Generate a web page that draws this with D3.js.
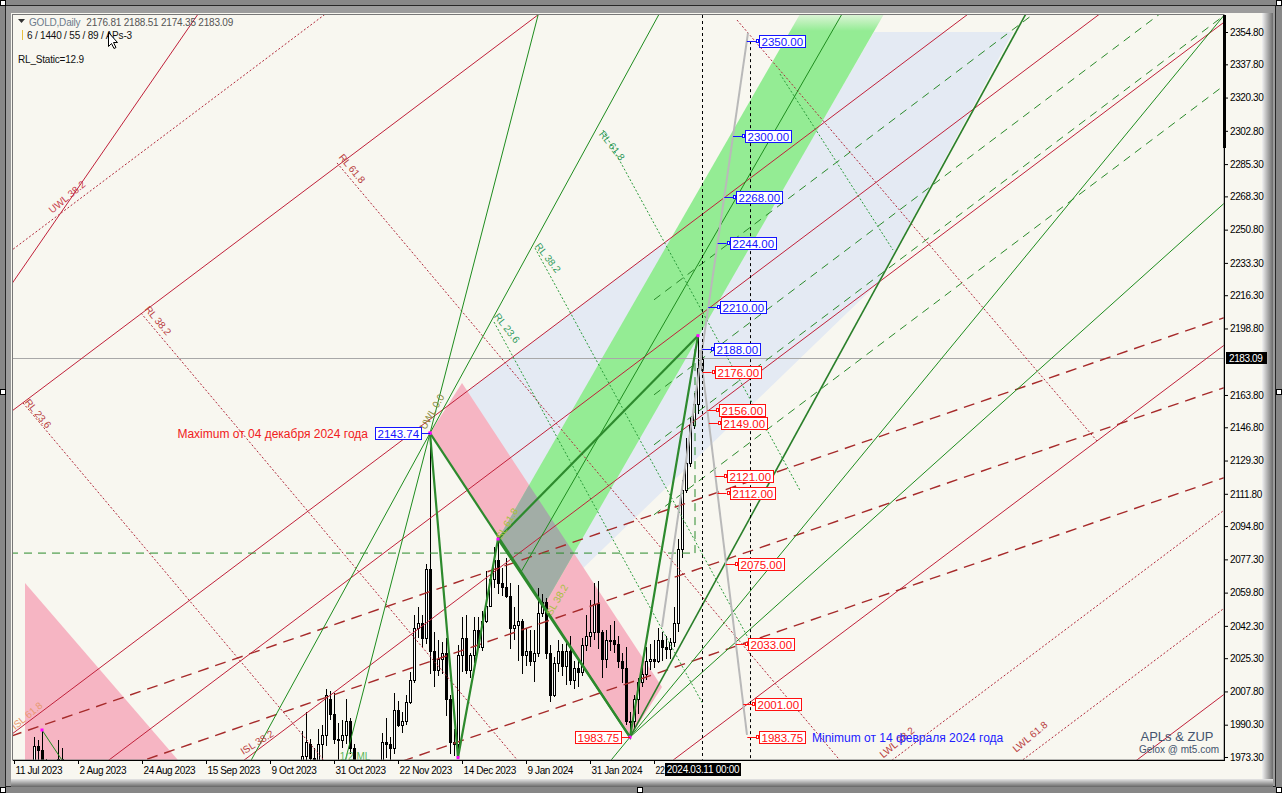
<!DOCTYPE html>
<html>
<head>
<meta charset="utf-8">
<script src="https://cdn.jsdelivr.net/npm/d3@7"></script>
<style>
body { margin: 0; background: #878787; }
svg { display: block; }
text { font-family: "Liberation Sans", Arial, sans-serif; }
</style>
</head>
<body>
<svg id="viz" width="1282" height="793"></svg>
<script>
// GOLD daily, MT5 style chart with APLs & ZUP drawing objects

var svg = d3.select("#viz");
var plot = { left: 13, top: 15, right: 1224, bottom: 760 };

// ---------- data ----------
var holidays = ["2023-12-25", "2024-01-01"];

// date, open, high, low, close (bars that reach the visible price window)
var candles = [
  ["2023-07-11",1925,1938,1922,1932],["2023-07-12",1932,1959,1930,1957],["2023-07-13",1957,1964,1953,1961],
  ["2023-07-14",1961,1963,1950,1955],["2023-07-17",1955,1962,1950,1955],["2023-07-18",1955,1984,1952,1979],
  ["2023-07-19",1979,1982,1967,1977],["2023-07-20",1977,1987.5,1966,1970],["2023-07-21",1970,1972,1957,1962],
  ["2023-07-24",1962,1966,1952,1955],["2023-07-25",1955,1967,1953,1965],["2023-07-26",1965,1982,1956,1972],
  ["2023-07-27",1972,1978,1942,1946],["2023-07-28",1946,1961,1945,1959],["2023-07-31",1959,1970,1955,1965],
  ["2023-08-01",1965,1967,1940,1944],
  ["2023-10-19",1947,1987,1942,1974],["2023-10-20",1974,1997,1965,1981],["2023-10-23",1980,1983,1961,1973],
  ["2023-10-24",1973,1978,1953,1970],["2023-10-25",1970,1988,1962,1980],["2023-10-26",1980,1990,1971,1985],
  ["2023-10-27",1985,2009,1979,2006],["2023-10-30",2004,2008,1993,1996],["2023-10-31",1996,2007,1980,1983],
  ["2023-11-01",1983,1991,1970,1982],["2023-11-02",1982,1993,1978,1985],["2023-11-03",1985,2004,1980,1992],
  ["2023-11-06",1992,1994,1975,1978],["2023-11-07",1978,1980,1957,1970],["2023-11-08",1970,1971,1947,1950],
  ["2023-11-09",1950,1965,1945,1958],["2023-11-10",1958,1959,1932,1940],["2023-11-13",1940,1947,1931,1946],
  ["2023-11-14",1946,1971,1935,1963],["2023-11-15",1963,1970,1953,1959],["2023-11-16",1959,1986,1956,1981],
  ["2023-11-17",1981,1994,1973,1980],["2023-11-20",1980,1984,1965,1978],["2023-11-21",1978,2007,1975,1998],
  ["2023-11-22",1998,2003,1989,1990],["2023-11-23",1990,1997,1986,1992],["2023-11-24",1992,2006,1990,2002],
  ["2023-11-27",2002,2018,2001,2014],["2023-11-28",2014,2048,2012,2041],["2023-11-29",2041,2052,2036,2044],
  ["2023-11-30",2044,2048,2031,2036],["2023-12-01",2036,2075,2033,2072],["2023-12-04",2072,2143.74,2017,2029],
  ["2023-12-05",2029,2039,2010,2019],["2023-12-06",2019,2035,2016,2025],["2023-12-07",2025,2034,2017,2028],
  ["2023-12-08",2028,2036,1995,2004],["2023-12-11",2004,2006,1975,1981],["2023-12-12",1981,1988,1974,1980],
  ["2023-12-13",1980,2032,1973,2027],["2023-12-14",2027,2047,2018,2036],["2023-12-15",2036,2048,2017,2019],
  ["2023-12-18",2019,2028,2015,2027],["2023-12-19",2027,2047,2023,2040],["2023-12-20",2040,2047,2030,2031],
  ["2023-12-21",2031,2050,2029,2045],["2023-12-22",2045,2071,2044,2053],["2023-12-26",2053,2069,2052,2067],
  ["2023-12-27",2067,2084,2062,2077],["2023-12-28",2077,2088,2059,2065],["2023-12-29",2065,2073,2058,2063],
  ["2024-01-02",2063,2078,2057,2058],["2024-01-03",2058,2065,2030,2041],["2024-01-04",2041,2052,2035,2043],
  ["2024-01-05",2043,2064,2024,2045],["2024-01-08",2045,2046,2017,2027],["2024-01-09",2027,2041,2021,2029],
  ["2024-01-10",2029,2040,2021,2024],["2024-01-11",2024,2040,2013,2028],["2024-01-12",2028,2062,2026,2049],
  ["2024-01-15",2049,2059,2047,2055],["2024-01-16",2055,2057,2025,2028],["2024-01-17",2028,2032,2002,2006],
  ["2024-01-18",2006,2026,2005,2023],["2024-01-19",2023,2035,2018,2029],["2024-01-22",2029,2033,2016,2021],
  ["2024-01-23",2021,2034,2011,2029],["2024-01-24",2029,2037,2011,2014],["2024-01-25",2014,2024,2009,2020],
  ["2024-01-26",2020,2025,2010,2018],["2024-01-29",2018,2036,2016,2032],["2024-01-30",2032,2048,2029,2037],
  ["2024-01-31",2037,2056,2031,2039],["2024-02-01",2039,2065,2035,2054],["2024-02-02",2054,2066,2030,2039],
  ["2024-02-05",2039,2040,2015,2025],["2024-02-06",2025,2040,2020,2035],["2024-02-07",2035,2043,2029,2035],
  ["2024-02-08",2035,2045,2028,2033],["2024-02-09",2033,2037,2020,2024],["2024-02-12",2024,2028,2012,2020],
  ["2024-02-13",2020,2031,1990,1992],["2024-02-14",1992,1997,1983.75,1992],["2024-02-15",1992,2006,1988,2004],
  ["2024-02-16",2004,2015,1996,2013],["2024-02-19",2013,2023,2010,2017],["2024-02-20",2017,2031,2014,2024],
  ["2024-02-21",2024,2033,2019,2025],["2024-02-22",2025,2035,2020,2024],["2024-02-23",2024,2041,2023,2035],
  ["2024-02-26",2035,2039,2024,2031],["2024-02-27",2031,2037,2025,2030],["2024-02-28",2030,2036,2025,2034],
  ["2024-02-29",2034,2052,2031,2044],["2024-03-01",2044,2088,2039,2083],["2024-03-04",2083,2119,2078,2114],
  ["2024-03-05",2114,2141,2112,2128],["2024-03-06",2128,2152,2126,2148],["2024-03-07",2148,2165,2146,2159],
  ["2024-03-08",2159,2195,2154,2178],["2024-03-11",2176.81,2188.51,2174.35,2183.09]
];

// zigzag turning points; the first ones are drawn thin, the rest bold
var zigzagOld = [["2023-07-20",1987.5],["2023-10-06",1810],["2023-12-04",2143.74]];
var zigzag = [["2023-12-04",2143.74],["2023-12-13",1973.0],["2023-12-28",2088.0],["2024-02-14",1983.75],["2024-03-08",2195.0]];

var xTickDates = ["2023-07-11","2023-08-02","2023-08-24","2023-09-15","2023-10-09","2023-10-31",
  "2023-11-22","2023-12-14","2024-01-09","2024-01-31","2024-02-22"];
var xTickLabels = ["11 Jul 2023","2 Aug 2023","24 Aug 2023","15 Sep 2023","9 Oct 2023","31 Oct 2023",
  "22 Nov 2023","14 Dec 2023","9 Jan 2024","31 Jan 2024","22 Feb 2024"];
var yTickValues = [2354.80,2337.80,2320.30,2302.80,2285.30,2268.30,2250.80,2233.30,2216.30,2198.80,
  2163.80,2146.80,2129.30,2111.80,2094.80,2077.30,2059.80,2042.30,2025.30,2007.80,1990.30,1973.30];
var lastClose = 2183.09;
var crossDate = "2024-03-11";
var projDate = "2024-03-27";

// pitchfork families: price of each line on the anchor bar, slope in $ per bar
var forkAnchor = "2024-03-11";
var redForkSlope = 1.585;
var redForkSolid = [2428.8, 2258.8, 2206.7, 2153.1, 1983.1, 1799.4];
var redForkDotted = [2513.5, 1896.3, 1844.7];
var redDashSlope = 0.726;
var redDashLevels = [2109.7, 2072.9, 2025.5];
var greenDashSlope = 1.585;
var greenDashLevels = [2232.9, 2182.9, 2156.6, 2119.8];
var greenDashFrom = 160;

// other lines: [bar1, price1, bar2, price2, style]  (bar = trading days since 11 Jul 2023)
var segments = [
  [-1, 2220.9, 48, 2370.3, "redSolid"],
  [2.25, 2159.6, 82.1, 1960, "redDot"],
  [31.75, 2206.9, 130.5, 1960, "redDot"],
  [80.75, 2285.9, 211.1, 1960, "redDot"],
  [180.75, 2361.1, 270.75, 2139.6, "redDot"],
  [104, 2143.74, 132, 2371.7, "greenSolid"],
  [55, 1955.1, 164, 2374.7, "greenSolid"],
  [154, 1983.75, 310, 2278.8, "greenSolid"],
  [146, 1963.3, 305, 2370.0, "greenSolid"],
  [154, 1983.75, 256, 2376.0, "greenMid"],
  [126.7, 2070.5, 211.3, 2380, "greenSolid"],
  [147.25, 2303.2, 196.5, 2113.6, "greenDot"],
  [130.25, 2241.1, 185, 2030.3, "greenDot"],
  [120, 2202.2, 172, 2002.0, "greenDot"],
  [191.5, 2332.7, 219.75, 2240.1, "greenDot"],
  [-1, 2080.6, 170.25, 2080.6, "greenDash"],
  [170.25, 2080.6, 170.25, 2188.0, "greenDash"],
  [104, 2143.74, 154, 1983.75, "greenThick"],
  [121, 2088.0, 171, 2195.0, "greenThick"]
];

var greenChannel = [[121,2088],[200.8,2380],[221.8,2380],[132.43,2052.9]];
var pinkBand = [[104,2143.74],[112,2170.1],[162,2010.1],[154,1983.75]];
var pinkCorner = [[2.75,2064.9],[70.4,1900],[2.75,1900]];
var lavender = [[108.75,2158.5],[201.5,2305.9],[215,2354.8],[249.75,2354.8],[216,2222.7],[132.5,2052.8],[122.75,2083.3]];

var grayUp = [162, 2041.7, 183.5, 2354.3];
var grayDown = [171.5, 2187.5, 183.25, 1984.9];
var bluePrices = [2350, 2300, 2268, 2244, 2210, 2188];
var redPrices = [2176, 2156, 2149, 2121, 2112, 2075, 2033, 2001, 1983.75];

var lineLabels = [
  ["UWL 38.2", 13.25, 2268, -40, "#c8404c"],
  ["RL 61.8", 84.5, 2283, 50, "#b84040"],
  ["RL 38.2", 36, 2203, 50, "#b84040"],
  ["RL 23.6", 6, 2154, 50, "#b84040"],
  ["RL 61.8", 149.5, 2295, 52, "#2e9a5a"],
  ["RL 38.2", 133.5, 2236, 52, "#2e9a5a"],
  ["RL 23.6", 123.25, 2199, 52, "#2e9a5a"],
  ["UWL 0.0", 104.5, 2155, -60, "#8a8a3a"],
  ["LWL 38.2", 220.75, 1981, -40, "#b84040"],
  ["LWL 61.8", 254, 1984, -40, "#b84040"],
  ["ISL 61.8", 3.25, 1995, -40, "#e89a70"],
  ["ISL 38.2", 60.75, 1981, -32, "#b84040"],
  ["1/2 ML", 85.25, 1973.5, 0, "#5cb85c"],
  ["SL 61.8", 123.25, 2096, -60, "#a8c040"],
  ["SL 38.2", 135.75, 2056, -60, "#a8c040"]
];

// ---------- scales ----------
var fmt = d3.utcFormat("%Y-%m-%d");
var days = d3.utcDay.range(new Date(Date.UTC(2023, 6, 11)), new Date(Date.UTC(2024, 11, 31)))
  .filter(function(d) { var w = d.getUTCDay(); return w > 0 && w < 6 && holidays.indexOf(fmt(d)) < 0; })
  .map(fmt);
function bar(s) { return days.indexOf(s); }

var x = d3.scaleLinear().domain([-0.25, 302.5]).range([plot.left, plot.right]);
var y = d3.scaleLinear().domain([1971.72, 2363.75]).range([plot.bottom, plot.top]);
var line = d3.line().x(function(d) { return x(d[0]); }).y(function(d) { return y(d[1]); });

var styles = {
  redSolid:  { c: "#c0213a", w: 1 },
  redDot:    { c: "#b0283a", w: 1, d: "2,2" },
  redDash:   { c: "#a62a2a", w: 1.4, d: "11,7" },
  greenSolid:{ c: "#1e8c1e", w: 1 },
  greenMid:  { c: "#2a7f2a", w: 1.6 },
  greenDash: { c: "#2a8a2a", w: 1, d: "8,6" },
  greenDot:  { c: "#2a9a3a", w: 1, d: "2,2" },
  greenThick:{ c: "#2d8a2d", w: 2.2 }
};

// ---------- frame ----------
var defs = svg.append("defs");
var gr = defs.append("linearGradient").attr("id", "bevR");
gr.append("stop").attr("offset", 0).attr("stop-color", "#f2f2f2");
gr.append("stop").attr("offset", 1).attr("stop-color", "#6c6c6c");
var gb = defs.append("linearGradient").attr("id", "bevB").attr("x2", 0).attr("y2", 1);
gb.append("stop").attr("offset", 0).attr("stop-color", "#e6e6e6");
gb.append("stop").attr("offset", 1).attr("stop-color", "#666");
var gt = defs.append("linearGradient").attr("id", "fadeTop").attr("x2", 0).attr("y2", 1);
gt.append("stop").attr("offset", 0).attr("stop-color", "#f8f7f0").attr("stop-opacity", 0.7);
gt.append("stop").attr("offset", 1).attr("stop-color", "#f8f7f0").attr("stop-opacity", 0);
defs.append("clipPath").attr("id", "plotClip").append("rect")
  .attr("x", plot.left).attr("y", plot.top)
  .attr("width", plot.right - plot.left).attr("height", plot.bottom - plot.top);
defs.append("clipPath").attr("id", "pinkClip").append("path").attr("d", line(pinkBand) + "Z");

svg.append("rect").attr("width", 1282).attr("height", 793).attr("fill", "#878787");
svg.append("rect").attr("x", 5.5).attr("y", 5.5).attr("width", 1270).attr("height", 781)
  .attr("fill", "#9c9c9c").attr("stroke", "#262626");
svg.append("rect").attr("x", 11).attr("y", 13).attr("width", 1251).attr("height", 766).attr("fill", "#f8f7f0");
svg.append("rect").attr("x", 1262).attr("y", 13).attr("width", 11).attr("height", 774).attr("fill", "url(#bevR)");
svg.append("rect").attr("x", 11).attr("y", 779).attr("width", 1262).attr("height", 8).attr("fill", "url(#bevB)");

// ---------- plot ----------
var g = svg.append("g").attr("clip-path", "url(#plotClip)");

g.append("path").attr("d", line(lavender) + "Z").attr("fill", "#e4eaf3");
g.append("path").attr("d", line(pinkCorner) + "Z").attr("fill", "#f6b5c3");
g.append("path").attr("d", line(pinkBand) + "Z").attr("fill", "#f6b5c3");
g.append("path").attr("d", line(greenChannel) + "Z").attr("fill", "#94ec94");
g.append("path").attr("d", line(greenChannel) + "Z").attr("fill", "#a2ada6").attr("clip-path", "url(#pinkClip)");
g.append("rect").attr("x", plot.left).attr("y", plot.top).attr("width", plot.right - plot.left).attr("height", 16)
  .attr("fill", "url(#fadeTop)");

// candles
var cg = g.append("g");
candles.forEach(function(r) {
  var t = bar(r[0]), px = Math.round(x(t));
  var o = r[1], h = r[2], l = r[3], c = r[4];
  cg.append("line").attr("x1", px + 0.5).attr("x2", px + 0.5)
    .attr("y1", Math.round(y(h))).attr("y2", Math.round(y(l)))
    .attr("stroke", "#000");
  var top = Math.round(y(Math.max(o, c))), bot = Math.round(y(Math.min(o, c)));
  cg.append("rect").attr("x", px - 0.5).attr("y", top + 0.5)
    .attr("width", 2).attr("height", Math.max(1, bot - top))
    .attr("fill", c >= o ? "#fff" : "#000").attr("stroke", "#000");
});

// current price line
g.append("line").attr("x1", plot.left).attr("x2", plot.right)
  .attr("y1", Math.round(y(lastClose)) + 0.5).attr("y2", Math.round(y(lastClose)) + 0.5)
  .attr("stroke", "#a8a8a8");

function drawLine(pts, st) {
  var s = styles[st];
  g.append("path").attr("d", line(pts)).attr("fill", "none")
    .attr("stroke", s.c).attr("stroke-width", s.w).attr("stroke-dasharray", s.d || null);
}
var a0 = bar(forkAnchor);
function family(levels, slope, st, from) {
  levels.forEach(function(p) {
    var t0 = from == null ? -5 : from, t1 = 320;
    drawLine([[t0, p + slope * (t0 - a0)], [t1, p + slope * (t1 - a0)]], st);
  });
}
family(redForkSolid, redForkSlope, "redSolid");
family(redForkDotted, redForkSlope, "redDot");
family(redDashLevels, redDashSlope, "redDash");
family(greenDashLevels, greenDashSlope, "greenDash", greenDashFrom);
segments.forEach(function(s) { drawLine([[s[0], s[1]], [s[2], s[3]]], s[4]); });

// zigzag
var zzOld = zigzagOld.map(function(d) { return [bar(d[0]), d[1]]; });
var zz = zigzag.map(function(d) { return [bar(d[0]), d[1]]; });
g.append("path").attr("d", line(zzOld)).attr("fill", "none").attr("stroke", "#1e8c1e").attr("stroke-width", 1);
g.append("path").attr("d", line(zz)).attr("fill", "none").attr("stroke", "#2d8a2d").attr("stroke-width", 2.2);
zzOld.concat(zz).forEach(function(d) {
  g.append("rect").attr("x", x(d[0]) - 1.5).attr("y", y(d[1]) - 1.5).attr("width", 3).attr("height", 3).attr("fill", "#ff00ff");
});

// projection lines
[grayUp, grayDown].forEach(function(s) {
  g.append("path").attr("d", line([[s[0], s[1]], [s[2], s[3]]])).attr("fill", "none")
    .attr("stroke", "#b9b9b9").attr("stroke-width", 2);
});
g.append("line").attr("x1", Math.round(x(bar(crossDate))) + 0.5).attr("x2", Math.round(x(bar(crossDate))) + 0.5)
  .attr("y1", plot.top).attr("y2", plot.bottom).attr("stroke", "#000").attr("stroke-dasharray", "3,3");
g.append("line").attr("x1", Math.round(x(bar(projDate))) + 0.5).attr("x2", Math.round(x(bar(projDate))) + 0.5)
  .attr("y1", y(2350)).attr("y2", plot.bottom).attr("stroke", "#000").attr("stroke-dasharray", "3,3");

// rotated object labels
lineLabels.forEach(function(d) {
  g.append("text").attr("transform", "translate(" + x(d[1]) + "," + y(d[2]) + ") rotate(" + d[3] + ")")
    .attr("text-anchor", "middle").attr("dy", "0.35em").attr("font-size", 10).attr("fill", d[4]).text(d[0]);
});

// price labels
function priceBox(xa, ya, txt, color, left) {
  var lg = svg.append("g");
  var t = lg.append("text").attr("font-size", 11.5).attr("fill", color).text(txt);
  var w = Math.round(t.node().getComputedTextLength()) + 4;
  var bx;
  if (left) {
    bx = Math.round(xa) - 9 - w;
    lg.append("line").attr("x1", bx + w).attr("x2", xa).attr("y1", ya + 0.5).attr("y2", ya + 0.5).attr("stroke", color);
  } else {
    bx = Math.round(xa) + 12;
    lg.append("line").attr("x1", xa).attr("x2", xa + 9).attr("y1", ya + 0.5).attr("y2", ya + 0.5).attr("stroke", color);
    lg.append("rect").attr("x", Math.round(xa) + 9.5).attr("y", ya - 1.5).attr("width", 2).attr("height", 3)
      .attr("fill", "#fff").attr("stroke", color);
  }
  lg.insert("rect", function() { return t.node(); }).attr("x", bx + 0.5).attr("y", ya - 5.5)
    .attr("width", w).attr("height", 12).attr("fill", "#fff").attr("stroke", color);
  t.attr("x", bx + 2.5).attr("y", ya + 4.5);
  return { left: bx, right: bx + w };
}
function onGray(s, p) { return s[0] + (p - s[1]) * (s[2] - s[0]) / (s[3] - s[1]); }
bluePrices.forEach(function(p) {
  priceBox(x(onGray(grayUp, p)), Math.round(y(p)), p.toFixed(2), "#1414ff", false);
});
var minBox;
redPrices.forEach(function(p) {
  var b = priceBox(x(onGray(grayDown, p)), Math.round(y(p)), p.toFixed(2), "#ff1010", false);
  if (p === 1983.75) minBox = b;
});
var maxPt = zz[0], lowPt = zz[3];
var maxBox = priceBox(x(maxPt[0]), Math.round(y(maxPt[1])), maxPt[1].toFixed(2), "#1414ff", true);
priceBox(x(lowPt[0]), Math.round(y(lowPt[1])), lowPt[1].toFixed(2), "#ff1010", true);

svg.append("text").attr("x", maxBox.left - 7).attr("y", Math.round(y(maxPt[1])) + 4.5)
  .attr("text-anchor", "end").attr("font-size", 12).attr("fill", "#f02020")
  .text("Maximum от 04 декабря 2024 года");
svg.append("text").attr("x", minBox.right + 7).attr("y", Math.round(y(1983.75)) + 4.5)
  .attr("font-size", 12).attr("fill", "#2020ff")
  .text("Minimum от 14 февраля 2024 года");

// ---------- axes ----------
var yAxis = svg.append("g").attr("transform", "translate(" + plot.right + ",0)")
  .call(d3.axisRight(y).tickValues(yTickValues).tickSize(4).tickPadding(2).tickFormat(d3.format(".2f")));
yAxis.select(".domain").remove();
yAxis.selectAll("text").attr("font-size", 10).attr("letter-spacing", -0.4).attr("fill", "#000")
  .attr("font-family", "Liberation Sans, Arial, sans-serif");

var cx = x(bar(crossDate));
defs.append("clipPath").attr("id", "xAxisClip").append("rect")
  .attr("x", 0).attr("y", plot.bottom).attr("width", cx - 37).attr("height", 20);
var xAxis = svg.append("g").attr("transform", "translate(0," + plot.bottom + ")")
  .call(d3.axisBottom(x).tickValues(xTickDates.map(bar)).tickSize(4).tickPadding(3)
    .tickFormat(function(d, i) { return xTickLabels[i]; }));
xAxis.select(".domain").remove();
xAxis.selectAll("text").attr("text-anchor", "start").attr("x", 1).attr("font-size", 10)
  .attr("letter-spacing", -0.4).attr("fill", "#000").attr("font-family", "Liberation Sans, Arial, sans-serif");
// the last date label runs under the crosshair tag, so cut it at the tag's left edge
xAxis.selectAll(".tick").filter(function(d, i) { return i === xTickDates.length - 1; })
  .select("text").attr("textLength", cx - 37 - x(bar(xTickDates[xTickDates.length - 1])) - 2)
  .attr("lengthAdjust", "spacingAndGlyphs").text("22");

svg.append("rect").attr("x", 12.5).attr("y", 14.5).attr("width", plot.right - 12.5).attr("height", plot.bottom - 14.5)
  .attr("fill", "none").attr("stroke", "#777");
svg.append("line").attr("x1", plot.right + 0.5).attr("x2", plot.right + 0.5).attr("y1", plot.top).attr("y2", plot.bottom + 1)
  .attr("stroke", "#000");
svg.append("line").attr("x1", plot.left).attr("x2", plot.right + 1).attr("y1", plot.bottom + 0.5).attr("y2", plot.bottom + 0.5)
  .attr("stroke", "#000");
svg.append("rect").attr("x", plot.right - 1).attr("y", plot.top).attr("width", 3).attr("height", 133).attr("fill", "#000");

// current price tag and crosshair date
var cy = Math.round(y(lastClose));
svg.append("rect").attr("x", 1226).attr("y", cy - 6).attr("width", 41).attr("height", 12).attr("fill", "#000");
svg.append("text").attr("x", 1229).attr("y", cy + 4).attr("font-size", 10).attr("letter-spacing", -0.4)
  .attr("fill", "#fff").text(lastClose.toFixed(2));
svg.append("rect").attr("x", cx - 37).attr("y", 763).attr("width", 76).attr("height", 13).attr("fill", "#000");
svg.append("text").attr("x", cx + 1).attr("y", 773).attr("text-anchor", "middle").attr("font-size", 10)
  .attr("letter-spacing", -0.3).attr("fill", "#fff").text("2024.03.11 00:00");

// ---------- header texts ----------
svg.append("path").attr("d", "M18,19 h7 l-3.5,4 z").attr("fill", "#333");
var h1 = svg.append("text").attr("x", 29).attr("y", 26).attr("font-size", 10).attr("letter-spacing", -0.2);
h1.append("tspan").attr("fill", "#6b7b8b").text("GOLD,Daily");
h1.append("tspan").attr("fill", "#555").attr("dx", 6).text("2176.81 2188.51 2174.35 2183.09");
svg.append("rect").attr("x", 22).attr("y", 30).attr("width", 1).attr("height", 10).attr("fill", "#e8c040");
svg.append("text").attr("x", 27).attr("y", 39).attr("font-size", 10).attr("letter-spacing", -0.2)
  .attr("fill", "#111").text("6 / 1440 / 55 / 89 / APs-3");
svg.append("text").attr("x", 18).attr("y", 63).attr("font-size", 10).attr("letter-spacing", -0.2)
  .attr("fill", "#111").text("RL_Static=12.9");
svg.append("path").attr("d", "M108.5,32.5 v14 l3,-3 l2.5,5 l2,-1 l-2.5,-5 h4 z")
  .attr("fill", "#fff").attr("stroke", "#000");

svg.append("text").attr("x", 1177).attr("y", 741).attr("text-anchor", "middle")
  .attr("font-family", "Liberation Serif, serif").attr("font-size", 13).attr("fill", "#44546e").text("APLs & ZUP");
svg.append("text").attr("x", 1179).attr("y", 753).attr("text-anchor", "middle")
  .attr("font-family", "Liberation Serif, serif").attr("font-size", 10).attr("fill", "#44546e").text("Gelox @ mt5.com");

// window handles
[[0, 0], [1276, 0], [0, 389], [1276, 389], [0, 787], [637, 787], [1276, 787]].forEach(function(p) {
  svg.append("rect").attr("x", p[0] + 0.5).attr("y", p[1] + 0.5).attr("width", 5).attr("height", 5)
    .attr("fill", "#fff").attr("stroke", "#000");
});
</script>
</body>
</html>
